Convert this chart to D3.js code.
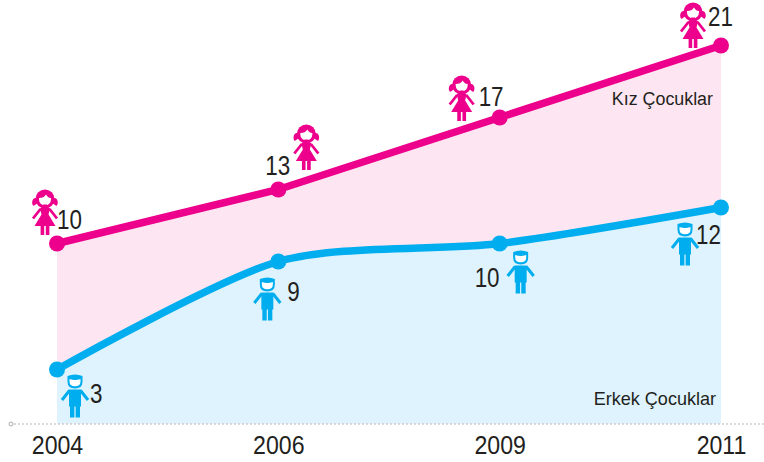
<!DOCTYPE html>
<html><head><meta charset="utf-8">
<script src="https://cdnjs.cloudflare.com/ajax/libs/d3/7.8.5/d3.min.js"></script>
<style>html,body{margin:0;background:#fff}svg{display:block}text{font-family:"Liberation Sans",sans-serif;fill:#231f20}</style>
</head><body><svg id="c" width="764" height="462"></svg>
<script>
const years=["2004","2006","2009","2011"];
const girls=[10,13,17,21];
const boys=[3,9,10,12];
const girlLabel="Kız Çocuklar";
const boyLabel="Erkek Çocuklar";
// marker placement relative to each data point (dx,dy of icon; dx,dy of number)
const girlOffsets=[[-12,-54,0,-15],[28,-65,-13,-15],[-38,-42,-21,-12],[-28,-43,-13,-20]];
const boyOffsets=[[18,5,33,33],[-11,16,9,39],[21,7,-25,43],[-36,15,-25,36]];
const pink="#ec008c",blue="#00aeef";
const svg=d3.select("#c");
const x=d3.scalePoint().domain(years).range([57,721]);
const y=d3.scaleLinear().domain([0,21]).range([423.5,45.5]);
const X=(d,i)=>x(years[i]);
const curveG=d3.curveLinear,curveB=d3.curveCardinal.tension(0.2);
svg.append("path").datum(girls).attr("d",d3.area().x(X).y0(y(0)).y1(d=>y(d)).curve(curveG)).attr("fill","#fde6f1");
svg.append("path").datum(boys).attr("d",d3.area().x(X).y0(y(0)).y1(d=>y(d)).curve(curveB)).attr("fill","#def3fd");
svg.append("line").attr("x1",14).attr("x2",764).attr("y1",424).attr("y2",424).attr("stroke","#b5b5b5").attr("stroke-width",1).attr("stroke-dasharray","2 2");
svg.append("circle").attr("cx",11).attr("cy",424).attr("r",2).attr("fill","#fff").attr("stroke","#aaa");
const ax=svg.append("g").attr("transform","translate(0,424)").call(d3.axisBottom(x).tickSize(0).tickPadding(0));
ax.select(".domain").remove();
ax.selectAll("text").attr("dy",null).attr("y",null)
  .attr("transform","translate(0,29.5) scale(0.89,1)")
  .attr("font-size",26).style("font-family",'"Liberation Sans",sans-serif').attr("fill","#231f20");
svg.append("path").datum(girls).attr("d",d3.line().x(X).y(d=>y(d)).curve(curveG)).attr("fill","none").attr("stroke",pink).attr("stroke-width",7.5);
svg.append("path").datum(boys).attr("d",d3.line().x(X).y(d=>y(d)).curve(curveB)).attr("fill","none").attr("stroke",blue).attr("stroke-width",7.5);
svg.selectAll(".g").data(girls).join("circle").attr("cx",X).attr("cy",d=>y(d)).attr("r",8).attr("fill",pink);
svg.selectAll(".b").data(boys).join("circle").attr("cx",X).attr("cy",d=>y(d)).attr("r",8).attr("fill",blue);
function girl(g){
 g.attr("fill",pink);
 g.append("circle").attr("cx",0).attr("cy",9.5).attr("r",9.5);
 g.append("path").attr("d","M-8 9C-12 7 -14 13 -12 16C-11 17 -10 15 -8 14Z");
 g.append("path").attr("d","M8 9C12 7 14 13 12 16C11 17 10 15 8 14Z");
 g.append("path").attr("d","M-6 8.5Q-1 8.5 1 5Q3 8.5 6 8.5V10A6 6 0 0 1 -6 10Z").attr("fill","#fff");
 g.append("rect").attr("x",-2).attr("y",15).attr("width",4).attr("height",4);
 g.append("path").attr("d","M-5 18.5H5L3.5 25L10.5 36.5H-10.5L-3.5 25Z");
 g.append("path").attr("d","M-4.5 19.5L-12 29M4.5 19.5L12 29").attr("stroke",pink).attr("stroke-width",2.8).attr("fill","none");
 g.append("rect").attr("x",-4.4).attr("y",36).attr("width",3.6).attr("height",9.5);
 g.append("rect").attr("x",.8).attr("y",36).attr("width",3.6).attr("height",9.5);
}
function boy(g){
 g.attr("fill",blue);
 g.append("path").attr("d","M-7.5 1.5Q0 -1.5 7.5 1.5V7Q7.5 14 0 14Q-7.5 14 -7.5 7Z");
 g.append("path").attr("d","M-5.5 4.5Q0 6.5 5.5 4.5V7Q5.5 11.8 0 11.8Q-5.5 11.8 -5.5 7Z").attr("fill","#fff");
 g.append("path").attr("d","M-6 15H6V32H-6Z");
 g.append("path").attr("d","M-5.5 16L-13 25.5M5.5 16L13 25.5").attr("stroke",blue).attr("stroke-width",3).attr("fill","none");
 g.append("rect").attr("x",-5).attr("y",31).attr("width",4.4).attr("height",12);
 g.append("rect").attr("x",.6).attr("y",31).attr("width",4.4).attr("height",12);
}
function label(px,py,size,sx,s,anchor){
 svg.append("text").attr("transform",`translate(${px},${py}) scale(${sx},1)`).attr("font-size",size).attr("text-anchor",anchor||"start").text(s);
}
function markers(vals,offs,draw){
 vals.forEach((v,i)=>{
  const px=x(years[i]),py=y(v),o=offs[i];
  draw(svg.append("g").attr("transform",`translate(${px+o[0]},${py+o[1]})`));
  label(px+o[2],py+o[3],27,.83,v);
 });
}
markers(girls,girlOffsets,girl);
markers(boys,boyOffsets,boy);
label(713,105,19,.94,girlLabel,"end");
label(716,405,19,.95,boyLabel,"end");
</script></body></html>
